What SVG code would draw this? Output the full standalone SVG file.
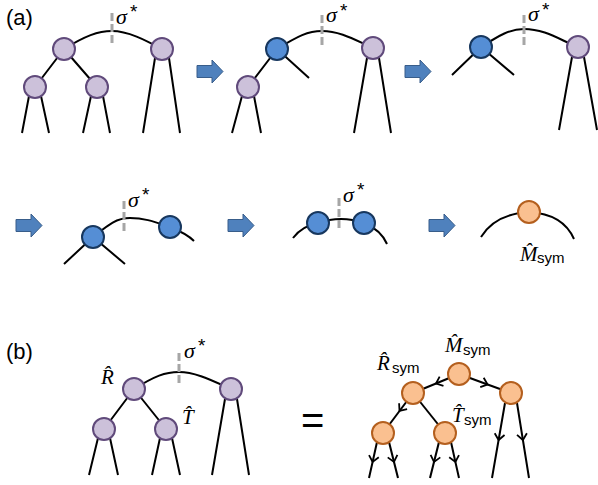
<svg xmlns="http://www.w3.org/2000/svg" width="598" height="485" viewBox="0 0 598 485">
<style>
.e{stroke:#000;stroke-width:2;fill:none;stroke-linecap:butt}
.cut{stroke:#A6A6A6;stroke-width:3;stroke-dasharray:8 3;fill:none}
.np{fill:#CCC1DA;stroke:#604A7B;stroke-width:2}
.nb{fill:#558ED5;stroke:#17375E;stroke-width:2}
.no{fill:#FAC090;stroke:#B45F1E;stroke-width:2}
.ba{fill:#4F81BD;stroke:#385D8A;stroke-width:1}
.lab{font-family:"Liberation Sans",Arial,sans-serif;font-size:22px;fill:#000}
.m{font-family:"Liberation Serif","DejaVu Serif",serif;font-style:italic;font-size:21px;fill:#000}
.sg{font-family:"Liberation Serif","DejaVu Serif",serif;font-style:italic;font-size:22px;fill:#000}
.st{font-family:"Liberation Sans",Arial,sans-serif;font-size:19px;fill:#000}
.sub{font-family:"Liberation Sans",Arial,sans-serif;font-size:15px;fill:#000}
.a{marker-mid:url(#chev)}
</style>
<defs>
<marker id="chev" viewBox="-8 -8 16 16" markerWidth="16" markerHeight="16" markerUnits="userSpaceOnUse" orient="auto" refX="0" refY="0">
<path d="M-6,-5 L0,0 L-6,5" fill="none" stroke="#000" stroke-width="1.8"/>
</marker>
<path id="blk" d="M0,-6 L15,-6 L15,-11.5 L26,0 L15,11.5 L15,6 L0,6 Z"/>
</defs>

<text class="lab" x="6" y="25">(a)</text>
<text class="lab" x="6" y="359">(b)</text>

<g id="connectors">
<!-- panel a1 -->
<path class="e" d="M64,49 C85,36 98,31 112,31 C128,31 145,40 162,49"/>
<path class="e" d="M64,49 L35,87 M64,49 L97,87"/>
<path class="e" d="M29,96 L22,133 M41,96 L49,133 M91,96 L83,133 M103,96 L110,133 M155,58 L143,133 M169,58 L180,133"/>
<!-- panel a2 -->
<path class="e" d="M277,49 C298,36 308,31 322,31 C340,31 355,40 373,48"/>
<path class="e" d="M277,49 L248,87 M277,49 L309,78"/>
<path class="e" d="M242,96 L232,133 M254,96 L261,133 M367,58 L354,133 M379,58 L391,133"/>
<!-- panel a3 -->
<path class="e" d="M481,47 C500,35 510,29 524,29 C545,29 560,40 578,47"/>
<path class="e" d="M481,47 L452,75 M481,47 L514,75"/>
<path class="e" d="M572,57 L559,130 M584,57 L597,130"/>
<!-- panel a4 -->
<path class="e" d="M93,237 L64,264 M93,237 L125,264"/>
<path class="e" d="M93,237 C108,225 116,218 130,218 C145,218 155,222 170,227 C180,231 188,235 194,241"/>
<!-- panel a5 -->
<path class="e" d="M293,238 Q302,226 318,223 Q341,215 364,223 Q381,230 387,244"/>
<!-- panel a6 -->
<path class="e" d="M481,237 Q495,214 529,212 Q563,214 574,239"/>
<!-- panel b left -->
<path class="e" d="M134,389 C155,376 165,372 179,372 C196,372 213,381 231,389"/>
<path class="e" d="M134,389 L104,429 M134,389 L166,429"/>
<path class="e" d="M98,438 L89,475 M110,438 L118,475 M160,438 L152,475 M172,438 L180,475 M225,399 L212,475 M237,399 L249,475"/>
<!-- panel b right -->
<path class="e a" d="M459,374 L436,383.5 L413,393"/>
<path class="e a" d="M459,374 L487.6,384.45 L511,393"/>
<path class="e a" d="M413,393 L399.5,411 L383,433"/>
<path class="e" d="M413,393 L445,433"/>
<path class="e a" d="M377,442 L372.6,462 L369,478"/>
<path class="e a" d="M389,442 L394,462 L398,478"/>
<path class="e a" d="M439,442 L434,462 L430,478"/>
<path class="e a" d="M451,442 L455.4,462 L459,478"/>
<path class="e a" d="M505,403 L498.6,440 L492,478"/>
<path class="e a" d="M517,403 L522.9,440 L529,478"/>
</g>

<g id="cuts">
<line class="cut" x1="112" y1="13" x2="112" y2="45"/>
<line class="cut" x1="322" y1="15" x2="322" y2="47"/>
<line class="cut" x1="524" y1="15" x2="524" y2="47"/>
<line class="cut" x1="124" y1="201" x2="124" y2="232"/>
<line class="cut" x1="339" y1="198" x2="339" y2="228"/>
<line class="cut" x1="179" y1="353" x2="179" y2="383"/>
</g>

<g id="block-arrows">
<use href="#blk" class="ba" x="197" y="71.5"/>
<use href="#blk" class="ba" x="405" y="71.5"/>
<use href="#blk" class="ba" x="16" y="225.5"/>
<use href="#blk" class="ba" x="228" y="225.5"/>
<use href="#blk" class="ba" x="429" y="225.5"/>
</g>

<g id="a1-n1"><circle class="np" cx="64" cy="49" r="11"/></g>
<g id="a1-n2"><circle class="np" cx="162" cy="49" r="11"/></g>
<g id="a1-n3"><circle class="np" cx="35" cy="87" r="11"/></g>
<g id="a1-n4"><circle class="np" cx="97" cy="87" r="11"/></g>

<g id="a2-n1"><circle class="nb" cx="277" cy="49" r="11"/></g>
<g id="a2-n2"><circle class="np" cx="373" cy="48" r="11"/></g>
<g id="a2-n3"><circle class="np" cx="248" cy="87" r="11"/></g>

<g id="a3-n1"><circle class="nb" cx="481" cy="47" r="11"/></g>
<g id="a3-n2"><circle class="np" cx="578" cy="47" r="11"/></g>

<g id="a4-n1"><circle class="nb" cx="93" cy="237" r="11"/></g>
<g id="a4-n2"><circle class="nb" cx="170" cy="227" r="11"/></g>

<g id="a5-n1"><circle class="nb" cx="318" cy="223" r="11"/></g>
<g id="a5-n2"><circle class="nb" cx="364" cy="223" r="11"/></g>

<g id="a6-n1"><circle class="no" cx="529" cy="212" r="11"/></g>

<g id="b1-n1"><circle class="np" cx="134" cy="389" r="11"/></g>
<g id="b1-n2"><circle class="np" cx="231" cy="389" r="11"/></g>
<g id="b1-n3"><circle class="np" cx="104" cy="429" r="11"/></g>
<g id="b1-n4"><circle class="np" cx="166" cy="429" r="11"/></g>

<g id="b2-n1"><circle class="no" cx="459" cy="374" r="11"/></g>
<g id="b2-n2"><circle class="no" cx="413" cy="393" r="11"/></g>
<g id="b2-n3"><circle class="no" cx="511" cy="393" r="11"/></g>
<g id="b2-n4"><circle class="no" cx="383" cy="433" r="11"/></g>
<g id="b2-n5"><circle class="no" cx="445" cy="433" r="11"/></g>

<g id="labels">
<text class="sg" x="116" y="24">σ</text><text class="st" x="130" y="18">*</text>
<text class="sg" x="326" y="22">σ</text><text class="st" x="340" y="17">*</text>
<text class="sg" x="528" y="21">σ</text><text class="st" x="542" y="16">*</text>
<text class="sg" x="128" y="207">σ</text><text class="st" x="142" y="201">*</text>
<text class="sg" x="343" y="202">σ</text><text class="st" x="357" y="196">*</text>
<text class="sg" x="184" y="358">σ</text><text class="st" x="198" y="352">*</text>

<text class="m" x="520" y="261">M̂</text><text class="sub" x="537" y="263">sym</text>
<text class="m" x="101" y="384">R̂</text>
<text class="m" x="182" y="424">T̂</text>
<text class="m" x="445" y="352">M̂</text><text class="sub" x="463" y="355">sym</text>
<text class="m" x="377" y="370">R̂</text><text class="sub" x="392" y="373">sym</text>
<text class="m" x="452" y="422">T̂</text><text class="sub" x="464" y="425">sym</text>
<text class="lab" x="301" y="434" style="font-size:40px">=</text>
</g>
</svg>
